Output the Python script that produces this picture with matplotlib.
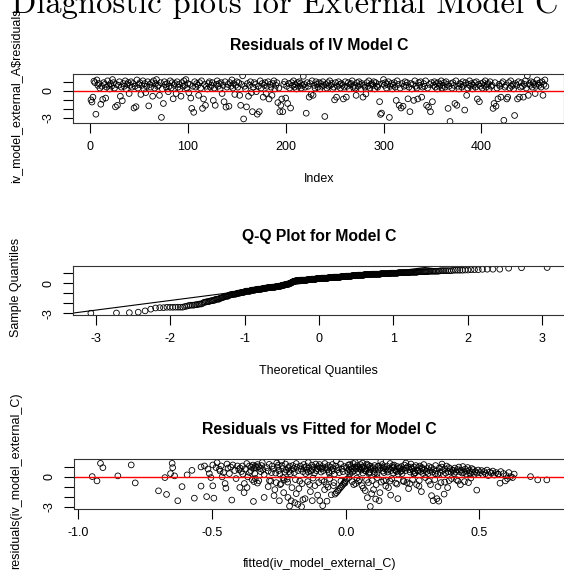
import numpy as np
import matplotlib
matplotlib.use("Agg")
import matplotlib.pyplot as plt
from statistics import NormalDist

# ---------------- data ----------------
# Panel 1: residuals of model A by observation index
resid_A = [
    -1.0, -1.24, -0.7, 1.06, 0.9, -2.58, 1.2, 0.6, 0.8, 0.3, -1.48, 0.5, -0.95, 0.9, 0.7, -0.8, 0.4, 1.1, 0.6, 0.2,
    0.8, 0.5, 1.24, 0.9, 0.3, -1.77, 0.7, -1.6, 0.6, 1.0, -0.6, 0.4, -1.1, 0.8, 0.5, 1.1, 0.2, 0.7, 0.9, -0.3,
    0.6, 1.0, 0.4, 0.8, -1.9, 0.5, -1.75, 1.2, 0.3, 0.7, 0.9, -0.4, 0.6, 1.1, 0.2, 0.8, -0.2, 0.5, 1.0, -1.66,
    0.7, 0.4, 0.9, -0.6, 1.1, 0.3, 0.8, 1.24, 0.5, 0.6, -0.5, 0.9, -2.93, 0.2, -1.4, 1.0, 0.7, 0.4, 0.8, -0.1,
    0.5, 1.1, 0.3, 0.9, -0.88, 0.6, 0.8, -0.3, 1.0, 0.4, 0.7, 0.2, -0.6, 0.9, 0.5, 1.1, 0.6, 1.24, 0.3, 0.8,
    -0.2, 0.7, -0.8, -1.94, 0.5, -2.37, 1.0, 0.4, 0.8, 0.6, -0.5, 0.9, 0.3, 1.1, -1.94, -0.9, 0.7, -1.6, 0.5, 0.2,
    0.8, 1.0, 0.4, 0.6, 0.9, -1.06, 0.3, -1.6, 0.7, 1.1, 0.5, 0.8, 0.2, 0.9, -0.3, 0.6, -1.2, 1.0, -1.8, 0.4,
    0.7, -1.7, 0.9, 0.5, 1.2, 0.3, 0.8, -0.4, 0.6, 1.0, 0.4, 0.9, -0.5, -1.6, 0.7, 1.65, -3.1, 0.5, 0.2, -1.77,
    0.8, -0.6, 0.6, 1.0, -0.2, -2.3, 0.4, 0.9, 0.7, -0.1, -2.58, 0.5, -2.3, 1.1, 0.3, 0.8, -0.7, 0.6, 0.9, -0.3,
    0.5, 1.0, -0.9, 0.7, 0.4, -0.5, 0.8, 1.1, 0.2, 0.6, 0.9, -1.3, 0.3, -2.3, -1.6, -0.9, -2.3, 0.7, 1.0, -0.8,
    0.5, -1.4, 0.8, 0.3, -1.9, 0.9, 0.6, 1.1, 0.4, 0.7, 0.2, 0.9, 0.5, 1.0, 0.8, 0.3, 0.6, 1.6, 0.7, 0.4,
    -2.47, 0.9, 0.5, -0.7, 0.8, -0.4, 1.1, -0.5, 0.6, 0.3, 1.0, 0.7, 0.4, 0.9, 0.2, 0.8, 0.5, 1.0, 0.6, -2.83,
    0.7, 0.3, 0.9, 0.5, 1.1, 0.6, 0.8, 0.2, 0.4, -1.0, 0.9, -0.7, 0.5, 1.0, 0.7, 0.3, 0.8, 0.6, -0.9, 0.4,
    1.0, -0.7, 0.5, 0.9, 0.2, 0.7, 0.8, 1.1, 0.4, 0.6, 0.3, -0.5, 0.9, 0.5, 1.0, 0.7, 0.2, 0.8, -0.7, 0.6,
    0.4, -0.35, 0.9, 0.5, 1.1, 0.3, 0.7, 0.8, 0.6, 1.0, 0.2, 0.9, 0.5, 0.4, 0.7, -1.2, -2.6, -2.45, 0.8, 1.24,
    0.6, 0.9, 0.3, 0.7, 1.0, -2.93, 0.5, 0.8, 0.2, 0.6, 0.9, 0.4, -1.06, 1.1, 0.7, -1.6, 0.3, -1.9, 0.8, -1.7,
    0.5, 1.0, 0.6, 0.9, -0.88, 0.4, -2.3, 0.8, 0.2, 0.7, -1.06, 1.1, 0.5, 0.3, -0.9, 0.9, 0.6, 1.0, -0.7, 0.4,
    0.8, 0.5, 1.1, -1.6, 0.3, -1.8, 0.7, -2.3, 0.9, -1.2, 0.6, 1.0, 0.4, 0.8, 0.2, 0.9, 0.5, 0.7, 1.1, 0.3,
    0.6, 0.9, 0.4, 1.0, 0.7, -1.94, 0.5, -3.38, 0.8, 0.3, 0.9, 0.6, -1.4, 1.1, -1.6, 0.5, 0.2, 0.8, 0.7, 0.4,
    1.0, 0.6, -2.12, 0.9, -0.5, 0.3, 0.7, 1.1, 0.5, 0.8, 0.2, 0.6, 0.9, 0.4, 1.0, -0.9, 0.7, -1.2, 0.5, 0.8,
    0.3, 0.9, 0.6, 1.1, 0.4, 0.7, 0.8, 0.2, 1.0, 0.5, 0.6, -1.94, -1.4, 0.9, -1.7, 0.3, -0.88, 0.7, 0.5, -0.7,
    0.8, 1.0, -3.25, 0.4, 0.6, -0.9, -0.7, 0.9, 0.3, 1.1, 0.5, 0.7, 0.2, -2.72, 0.8, 0.6, -0.9, 1.0, -0.7, 0.4,
    0.9, 0.5, -0.7, 0.7, 1.1, 0.3, 1.65, -0.5, 0.8, 0.6, 1.0, 0.4, 0.9, 0.7, -0.3, 0.5, 1.2, 0.8, 0.6, 0.9,
    0.4, 1.0, -0.5, 0.7, 1.2, 0.5,
]

# Panels 2 and 3: fitted values and residuals of model C (parallel lists)
fitted_C = [
    -0.948, -0.93, -0.917, -0.908, -0.852, -0.802, -0.787, -0.70, -0.676, -0.67, -0.655, -0.649, -0.647, -0.628, -0.612, -0.64,
    -0.593, -0.566, -0.541, -0.541, -0.528, -0.52, -0.51, -0.504, -0.575, -0.515,
    -0.497, -0.497, -0.493, -0.481, -0.472, -0.466, -0.462, -0.457, -0.451, -0.448, -0.426, -0.422, -0.405, -0.47, -0.44, -0.435, -0.43, -0.415, -0.41, -0.485, -0.444, -0.40,
    -0.396, -0.386, -0.379, -0.369, -0.366, -0.36, -0.345, -0.352, -0.347, -0.343, -0.338, -0.335, -0.33, -0.326, -0.32, -0.315, -0.31, -0.35, -0.343, -0.338, -0.33, -0.325, -0.39, -0.385, -0.375, -0.37, -0.36, -0.355, -0.395, -0.34, -0.318, -0.305, -0.305, -0.38, -0.312,
    -0.286, -0.248, -0.216, -0.204, -0.295, -0.29, -0.285, -0.28, -0.275, -0.27, -0.265, -0.262, -0.258, -0.255, -0.25, -0.245, -0.242, -0.238, -0.235, -0.232, -0.228, -0.225, -0.222, -0.219, -0.214, -0.21, -0.207, -0.203, -0.201, -0.268, -0.26, -0.24, -0.23, -0.217, -0.212, -0.29, -0.278, -0.252, -0.246, -0.235,
    -0.21, -0.19, -0.179, -0.165, -0.198, -0.195, -0.192, -0.188, -0.185, -0.182, -0.178, -0.175, -0.172, -0.17, -0.168, -0.163, -0.16, -0.157, -0.155, -0.152, -0.15, -0.147, -0.145, -0.142, -0.14, -0.137, -0.135, -0.132, -0.13, -0.127, -0.125, -0.122, -0.12, -0.117, -0.115, -0.112, -0.11, -0.107, -0.105, -0.103, -0.101, -0.185, -0.16, -0.125, -0.14,
    -0.086, -0.097, -0.07, -0.054, -0.04, -0.035, -0.03, -0.026, -0.021, -0.016, -0.012, -0.008, -0.004, -0.001, -0.098, -0.095, -0.092, -0.09, -0.088, -0.084, -0.081, -0.078, -0.075, -0.072, -0.068, -0.065, -0.062, -0.06, -0.057, -0.052, -0.05, -0.047, -0.044, -0.042, -0.038, -0.033, -0.028, -0.024, -0.019, -0.014, -0.01, -0.006, -0.003, -0.079, -0.066, -0.046, -0.035, -0.018, -0.063, -0.089,
    0.092, 0.005, 0.003, 0.007, 0.01, 0.013, 0.016, 0.019, 0.022, 0.025, 0.028, 0.031, 0.034, 0.037, 0.04, 0.043, 0.046, 0.049, 0.052, 0.055, 0.058, 0.061, 0.064, 0.067, 0.07, 0.073, 0.076, 0.079, 0.082, 0.085, 0.088, 0.091, 0.094, 0.097, 0.099, 0.012, 0.024, 0.036, 0.048, 0.06, 0.072, 0.084, 0.096, 0.018, 0.042, 0.066, 0.078, 0.09, 0.054, 0.03, 0.015, 0.063, 0.081, 0.045, 0.087,
    0.112, 0.125, 0.102, 0.105, 0.108, 0.11, 0.114, 0.117, 0.12, 0.122, 0.128, 0.13, 0.133, 0.136, 0.139, 0.142, 0.145, 0.148, 0.151, 0.154, 0.157, 0.16, 0.163, 0.166, 0.169, 0.172, 0.175, 0.178, 0.181, 0.184, 0.187, 0.19, 0.193, 0.196, 0.199, 0.104, 0.118, 0.131, 0.143, 0.156, 0.168, 0.18, 0.192, 0.107, 0.14, 0.165, 0.176, 0.188, 0.15, 0.124,
    0.195, 0.202, 0.205, 0.208, 0.211, 0.214, 0.217, 0.22, 0.223, 0.226, 0.229, 0.232, 0.235, 0.238, 0.241, 0.244, 0.247, 0.25, 0.253, 0.256, 0.259, 0.262, 0.265, 0.268, 0.271, 0.274, 0.277, 0.28, 0.283, 0.286, 0.289, 0.292, 0.295, 0.298, 0.21, 0.225, 0.24, 0.255, 0.27, 0.285, 0.215, 0.245, 0.26, 0.275, 0.29,
    0.321, 0.327, 0.341, 0.348, 0.368, 0.381, 0.302, 0.305, 0.308, 0.311, 0.314, 0.317, 0.32, 0.324, 0.33, 0.333, 0.336, 0.339, 0.344, 0.35, 0.353, 0.356, 0.359, 0.362, 0.365, 0.371, 0.374, 0.377, 0.384, 0.387, 0.39, 0.393, 0.396, 0.399, 0.31, 0.335, 0.36, 0.385, 0.345, 0.37,
    0.402, 0.405, 0.408, 0.411, 0.414, 0.417, 0.42, 0.423, 0.426, 0.429, 0.432, 0.435, 0.438, 0.441, 0.444, 0.447, 0.45, 0.453, 0.456, 0.459, 0.462, 0.465, 0.468, 0.471, 0.474, 0.477, 0.48, 0.485, 0.49, 0.495,
    0.49, 0.503, 0.508, 0.512, 0.518, 0.523, 0.528, 0.533, 0.538, 0.545, 0.55, 0.556, 0.562, 0.57, 0.58,
    0.57, 0.577, 0.597, 0.61, 0.617, 0.624, 0.691, 0.718, 0.752, 0.6, 0.59, 0.605, 0.63,
]
resid_C = [
    0.0, -0.43, 1.32, 0.89, 0.07, 1.16, -0.63, -1.42, -0.1, -1.78, 0.3, 1.32, 0.89, -2.41, -1.0, 0.07,
    0.17, -2.15, -0.95, 0.96, 1.06, -2.0, 0.3, -0.1, 0.62, 0.75,
    1.16, -0.92, -2.15, 1.39, 0.73, 1.06, -0.03, 0.4, -0.69, -1.15, -2.34, 1.16, 1.06, 0.56, 0.85, 0.3, 0.95, 0.6, -0.2, 0.9, 1.25, 0.7,
    -1.09, 1.06, -0.69, -1.09, -0.03, 1.06, -2.48, 0.95, 1.15, 0.85, 1.05, 0.9, 1.2, 0.98, 0.8, 1.1, 0.7, -0.3, -0.5, -0.2, -0.65, -0.4, 0.5, 0.25, 0.75, 1.3, 0.4, 0.6, 0.85, 0.3, 0.5, 0.2, -2.08, -1.6, 1.4,
    1.22, -2.41, -2.08, -2.41, 0.9, 0.55, -0.4, -0.45, 1.05, 0.75, -1.3, 0.35, 1.35, 0.95, 0.6, -0.8, -0.7, 1.1, 0.8, -1.6, 0.45, 1.25, 0.65, -0.25, 0.9, 1.05, 0.3, 0.7, -1.1, -1.9, -0.6, 1.55, -0.35, -0.55, 0.5, -1.0, 0.4, 1.15, 0.25, -0.1,
    -2.95, -2.6, -2.77, -3.0, 1.1, 0.8, 0.4, -0.3, 1.3, 0.95, 0.6, -1.2, -0.45, 1.05, 0.75, -0.7, 0.5, 1.2, 0.9, -2.2, 0.3, 1.0, 0.65, -0.5, 1.4, 0.85, -0.8, -1.5, 0.55, 1.15, 0.7, -0.15, 0.95, 0.35, -0.9, 1.25, 0.6, 0.8, -1.85, 1.0, -0.6, -1.7, -2.3, -2.4, 0.45,
    -2.9, -2.4, -2.45, -1.82, -1.75, -1.6, -1.45, -1.3, -1.15, -1.0, -0.85, -0.7, -0.55, -0.4, 1.2, 0.85, 0.45, -0.35, 1.0, 0.6, -0.5, 1.3, 0.9, -0.8, 0.7, 1.1, 0.35, -0.2, 0.95, 0.55, 1.2, 0.8, -0.6, 0.25, 1.05, 0.65, 0.9, 0.4, 1.25, 0.75, 0.5, 1.0, -0.65, -1.3, -1.05, -0.9, 1.57, -0.45, 0.5, 0.8,
    -2.98, -0.26, 0.9, 0.5, 1.15, 0.7, 0.3, 1.0, 0.8, 0.45, 1.3, 0.6, 0.95, -0.7, 0.75, 1.1, 0.5, 0.85, -0.3, 1.2, 0.65, -0.9, 0.35, 1.0, 0.8, -1.4, 0.55, 1.25, 0.9, -0.6, 0.4, 1.05, 0.7, -1.7, -0.4, -0.1, -0.5, 1.4, -0.45, 0.95, 0.6, 1.15, 0.85, 0.55, -0.15, -1.15, -0.35, 0.45, 0.75, -0.8, 1.2, 1.35, -2.1, 0.95, 0.3,
    -2.24, -2.4, 0.9, 0.5, 1.1, 0.7, -0.8, 0.3, 1.0, 0.65, -1.6, 0.85, -0.55, 1.2, 0.55, -0.4, 0.95, 0.75, -0.35, 1.05, 0.45, -1.1, 0.8, 1.3, 0.6, -0.2, 0.9, 0.35, 1.15, 0.7, -0.65, 0.5, 1.0, 0.25, 0.8, -1.3, -0.1, 1.5, 0.4, 0.65, -1.85, 0.9, -0.75, 0.3, 0.85, -0.45, 1.1, 0.6, -0.95, 1.05,
    -2.2, 0.9, 0.5, 1.0, 0.3, 0.75, -0.5, 1.15, 0.6, 0.85, -0.6, 1.0, -1.2, 0.7, 0.45, 1.25, 0.8, -0.3, 0.55, 0.95, 0.35, 1.1, -0.8, 0.65, 0.9, -0.95, 1.05, 0.5, -1.5, 0.8, 0.3, 1.2, 0.7, -0.1, 0.6, 1.35, -0.7, 0.25, 0.55, 0.9, -0.4, 0.95, 0.4, -0.4, 0.6,
    -1.9, -2.4, -2.2, -2.45, -1.75, -1.1, 0.5, 0.8, 0.3, 1.0, 0.6, -0.8, 0.9, 0.45, 0.7, -0.3, 1.1, 0.55, 0.25, 0.85, 0.4, -0.6, 0.95, 0.6, 0.2, 0.75, 0.35, 1.05, 0.5, -0.4, 0.8, 0.45, -0.2, 0.65, -0.45, 0.3, 1.25, 0.9, -1.0, -0.55,
    0.6, 0.3, 0.85, 0.45, -0.3, 0.7, -0.45, 0.95, 0.5, -0.8, 0.65, 0.35, 1.0, 0.4, -0.5, 0.75, 0.25, 0.55, 0.9, -0.6, 0.6, 0.3, -0.15, 0.8, 0.45, 0.7, 0.2, 0.5, 0.35, 0.65,
    -1.35, 0.4, 0.6, 0.2, 0.5, 0.3, 0.65, 0.1, 0.45, 0.35, 0.55, 0.15, 0.4, 0.25, 0.5,
    0.23, -0.66, -0.43, 0.4, 0.0, -0.1, 0.0, -0.33, -0.33, 0.1, 0.3, -0.2, 0.25,
]

main_title = "4. Diagnostic plots for External Model C"
titles = ["Residuals of IV Model C", "Q-Q Plot for Model C", "Residuals vs Fitted for Model C"]
xlabels = ["Index", "Theoretical Quantiles", "fitted(iv_model_external_C)"]
ylabels = [r"iv_model_external_A\$residuals", "Sample Quantiles", "residuals(iv_model_external_C)"]
xticks1 = [0, 100, 200, 300, 400]
xticks2 = [-3, -2, -1, 0, 1, 2, 3]
xticks3 = [-1.0, -0.5, 0.0, 0.5]
xticklabels3 = ["-1.0", "-0.5", "0.0", "0.5"]
yticks = [-3, -2, -1, 0, 1]
yticklabels = ["-3", "", "", "0", ""]

# ---------------- figure ----------------
plt.rcParams['font.family'] = ['Liberation Sans', 'DejaVu Sans']
W, H = 564, 577
fig = plt.figure(figsize=(W / 100, H / 100), dpi=100)


def add_ax(left, top, right, bottom):
    return fig.add_axes([left / W, 1 - bottom / H, (right - left) / W, (bottom - top) / H])


def rlim(v):
    lo, hi = float(np.min(v)), float(np.max(v))
    pad = 0.04 * (hi - lo)
    return lo - pad, hi + pad


def style(ax, xt, xtl, title, xlabel, ylabel, box):
    left, top, right, bottom = box
    ax.set_xticks(xt)
    ax.set_xticklabels(xtl)
    ax.set_yticks(yticks)
    ax.set_yticklabels(yticklabels, rotation=90, va='center', ha='center')
    ax.tick_params(axis='both', direction='out', length=7, width=0.8, labelsize=9, colors='black')
    ax.tick_params(axis='x', pad=6)
    ax.tick_params(axis='y', pad=10.5)
    for s in ax.spines.values():
        s.set_linewidth(0.8)
        s.set_color('#333333')
    cx = (left + 565) / 2
    fig.text(cx / W, 1 - (top - 29) / H, title, ha='center', va='center', fontsize=11.3, fontweight='bold')
    fig.text(cx / W, 1 - (bottom + 56) / H, xlabel, ha='center', va='center', fontsize=9)
    fig.text(16 / W, 1 - ((top + bottom) / 2 - 3) / H, ylabel, ha='center', va='center', fontsize=9, rotation=90)


marker = dict(s=17, facecolors='none', edgecolors='black', linewidths=0.6)

# Panel 1
box1 = (72.8, 74, 564.1, 123.3)
ax1 = add_ax(*box1)
idx = np.arange(1, len(resid_A) + 1)
ax1.scatter(idx, resid_A, **marker)
ax1.axhline(0, color='red', lw=1)
ax1.set_xlim(rlim(idx))
ax1.set_ylim(rlim(resid_A))
style(ax1, xticks1, [str(t) for t in xticks1], titles[0], xlabels[0], ylabels[0], box1)

# Panel 2: normal Q-Q
box2 = (72.6, 265.7, 565.4, 315)
ax2 = add_ax(*box2)
n = len(resid_C)
nd = NormalDist()
theo = np.array([nd.inv_cdf((i - 0.5) / n) for i in range(1, n + 1)])
samp = np.sort(np.array(resid_C))
ax2.scatter(theo, samp, **marker)
q1, q3 = np.quantile(resid_C, [0.25, 0.75])
z1, z3 = nd.inv_cdf(0.25), nd.inv_cdf(0.75)
slope = (q3 - q1) / (z3 - z1)
ax2.axline((z1, q1), slope=slope, color='black', lw=0.8)
ax2.set_xlim(rlim(theo))
ax2.set_ylim(rlim(samp))
style(ax2, xticks2, [str(t) for t in xticks2], titles[1], xlabels[1], ylabels[1], box2)

# Panel 3: residuals vs fitted
box3 = (74, 459, 565, 508.5)
ax3 = add_ax(*box3)
ax3.scatter(fitted_C, resid_C, **marker)
ax3.axhline(0, color='red', lw=1)
ax3.set_xlim(rlim(fitted_C))
ax3.set_ylim(rlim(resid_C))
style(ax3, xticks3, xticklabels3, titles[2], xlabels[2], ylabels[2], box3)

# Overall (partially cut) heading
fig.text(-25 / W, 1 - 13 / H, main_title, ha='left', va='baseline', fontsize=23.5, family='cmr10')

fig.savefig("out.png", dpi=100)
